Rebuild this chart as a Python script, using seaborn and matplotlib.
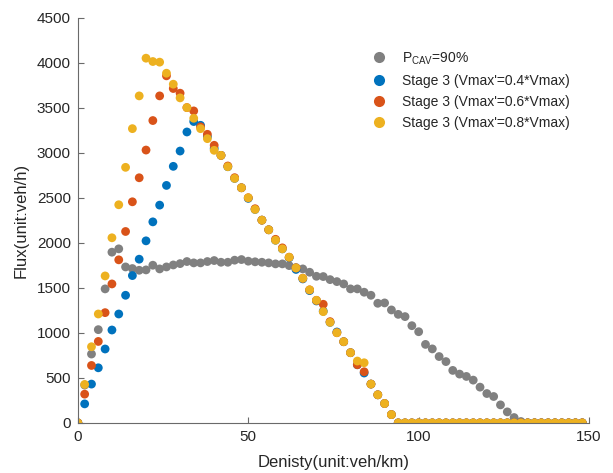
import numpy as np
import pandas as pd
import seaborn as sns
import matplotlib
matplotlib.use("Agg")
import matplotlib.pyplot as plt

density = list(range(0, 150, 2))

flux_pcav90 = [0, 420, 765, 1036, 1489, 1897, 1934, 1733, 1715, 1696, 1700, 1752, 1711, 1733, 1755,
               1770, 1793, 1778, 1778, 1793, 1804, 1785, 1785, 1808, 1815, 1797, 1790, 1785, 1778,
               1767, 1767, 1748, 1726, 1711, 1674, 1629, 1626, 1592, 1570, 1544, 1489, 1489, 1452,
               1418, 1329, 1333, 1255, 1206, 1181, 1080, 1013, 872, 822, 737, 681, 583, 542, 516,
               475, 397, 326, 293, 200, 122, 59, 15] + [0] * 9

flux_v04 = [0, 211, 431, 612, 821, 1032, 1210, 1418, 1637, 1819, 2023, 2234, 2420, 2639, 2851,
            3021, 3233, 3349, 3307, 3180, 3050, 2973, 2847, 2717, 2613, 2495, 2372, 2253, 2146,
            2030, 1934, 1835, 1705, 1600, 1470, 1355, 1241, 1117, 1010, 902, 780, 646, 554, 431,
            312, 215, 92] + [0] * 28

flux_v06 = [0, 319, 638, 905, 1225, 1544, 1812, 2127, 2457, 2724, 3032, 3360, 3634, 3857, 3716,
            3664, 3504, 3467, 3290, 3207, 3085, 2973, 2855, 2725, 2613, 2502, 2380, 2253, 2146,
            2040, 1945, 1841, 1722, 1607, 1478, 1362, 1318, 1125, 1002, 902, 780, 646, 568, 431,
            312, 215, 92] + [0] * 28

flux_v08 = [0, 427, 846, 1210, 1633, 2057, 2424, 2840, 3270, 3634, 4053, 4016, 4009, 3886, 3764,
            3612, 3504, 3385, 3270, 3159, 3029, 2973, 2847, 2717, 2613, 2502, 2372, 2253, 2146,
            2030, 1934, 1841, 1722, 1607, 1478, 1362, 1236, 1117, 1002, 902, 780, 687, 668, 431,
            312, 215, 92] + [0] * 28

labels = [r"P$_{\mathregular{CAV}}$=90%",
          "Stage 3 (Vmax'=0.4*Vmax)",
          "Stage 3 (Vmax'=0.6*Vmax)",
          "Stage 3 (Vmax'=0.8*Vmax)"]
colors = ["#808080", "#0072BD", "#D95319", "#EDB120"]

frames = []
for lab, ys in zip(labels, [flux_pcav90, flux_v04, flux_v06, flux_v08]):
    frames.append(pd.DataFrame({"density": density, "flux": ys, "series": lab}))
df = pd.concat(frames, ignore_index=True)

sns.set_style("white")
plt.rcParams["font.family"] = ["Liberation Sans", "DejaVu Sans"]
plt.rcParams["mathtext.fontset"] = "custom"
plt.rcParams["mathtext.rm"] = "Liberation Sans"

fig = plt.figure(figsize=(6.13, 4.73), dpi=100)
ax = fig.add_axes([0.127, 0.106, 0.834, 0.856])

sns.scatterplot(data=df, x="density", y="flux", hue="series", hue_order=labels,
                palette=colors, s=40, linewidth=0, ax=ax, legend=True)

ax.set_xlim(0, 150)
ax.set_ylim(0, 4500)
ax.set_xticks([0, 50, 100, 150])
ax.set_yticks(np.arange(0, 4501, 500))
for s in ["top", "right"]:
    ax.spines[s].set_visible(False)
for s in ["left", "bottom"]:
    ax.spines[s].set_color("#6a6a6a")
    ax.spines[s].set_linewidth(0.8)
ax.tick_params(direction="in", length=4, width=0.8, color="#6a6a6a",
               labelsize=11, labelcolor="#262626", left=True, bottom=True, pad=5)
ax.set_xlabel("Denisty(unit:veh/km)", fontsize=12, color="#262626", labelpad=8)
ax.set_ylabel("Flux(unit:veh/h)", fontsize=12, color="#262626", labelpad=6)

handles, labs = ax.get_legend_handles_labels()
for h in handles:
    try:
        h.set_markersize(8)
    except Exception:
        pass
leg = ax.legend(handles, labs, frameon=False, fontsize=10, loc="upper left",
                bbox_to_anchor=(0.575, 0.92), bbox_transform=fig.transFigure,
                handletextpad=0.7, labelspacing=0.5)

fig.savefig("out.png", dpi=100)
